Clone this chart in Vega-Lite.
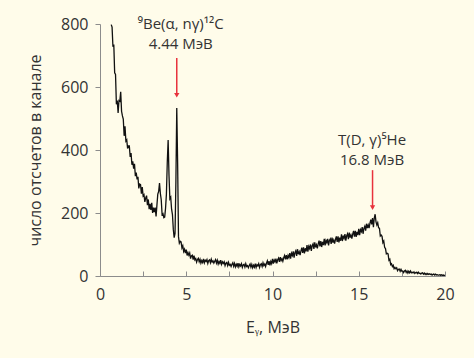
{
  "$schema": "https://vega.github.io/schema/vega-lite/v6.json",
  "width": 345,
  "height": 252,
  "autosize": "none",
  "padding": {"left": 100, "top": 24, "right": 29, "bottom": 82},
  "background": "#fffcea",
  "config": {
    "view": {"stroke": null},
    "font": "Open Sans",
    "axis": {
      "domainColor": "#8c8c8c",
      "tickColor": "#8c8c8c",
      "labelColor": "#333333",
      "titleColor": "#333333",
      "labelFontSize": 16,
      "titleFontSize": 16,
      "titleFontWeight": "normal",
      "grid": false,
      "labelFlush": false,
      "labelOverlap": false
    }
  },
  "datasets": {
    "spectrum": [
      {"e":0.65,"c":798},{"e":0.70,"c":790},{"e":0.75,"c":728},{"e":0.80,"c":735},{"e":0.85,"c":645},{"e":0.90,"c":640},{"e":0.95,"c":545},{"e":1.00,"c":557},{"e":1.05,"c":518},{"e":1.10,"c":557},
      {"e":1.15,"c":555},{"e":1.20,"c":585},{"e":1.25,"c":523},{"e":1.30,"c":508},{"e":1.35,"c":498},{"e":1.40,"c":445},{"e":1.45,"c":475},{"e":1.50,"c":428},{"e":1.55,"c":432},{"e":1.60,"c":405},
      {"e":1.65,"c":413},{"e":1.70,"c":413},{"e":1.75,"c":378},{"e":1.80,"c":390},{"e":1.85,"c":353},{"e":1.90,"c":364},{"e":1.95,"c":341},{"e":2.00,"c":356},{"e":2.05,"c":317},{"e":2.10,"c":328},
      {"e":2.15,"c":307},{"e":2.20,"c":315},{"e":2.25,"c":278},{"e":2.30,"c":292},{"e":2.35,"c":290},{"e":2.40,"c":261},{"e":2.45,"c":282},{"e":2.50,"c":254},{"e":2.55,"c":258},{"e":2.60,"c":235},
      {"e":2.65,"c":248},{"e":2.70,"c":255},{"e":2.75,"c":225},{"e":2.80,"c":243},{"e":2.85,"c":212},{"e":2.90,"c":229},{"e":2.95,"c":210},{"e":3.00,"c":232},{"e":3.05,"c":200},{"e":3.10,"c":217},
      {"e":3.15,"c":203},{"e":3.20,"c":217},{"e":3.25,"c":189},{"e":3.30,"c":225},{"e":3.35,"c":260},{"e":3.40,"c":268},{"e":3.45,"c":295},{"e":3.50,"c":262},{"e":3.55,"c":242},{"e":3.60,"c":195},
      {"e":3.65,"c":198},{"e":3.70,"c":185},{"e":3.75,"c":187},{"e":3.80,"c":215},{"e":3.85,"c":260},{"e":3.90,"c":360},{"e":3.95,"c":432},{"e":4.00,"c":320},{"e":4.05,"c":245},{"e":4.10,"c":250},
      {"e":4.15,"c":212},{"e":4.20,"c":195},{"e":4.25,"c":148},{"e":4.30,"c":122},{"e":4.35,"c":135},{"e":4.40,"c":300},{"e":4.45,"c":533},{"e":4.50,"c":360},{"e":4.55,"c":125},{"e":4.60,"c":104},
      {"e":4.65,"c":110},{"e":4.70,"c":108},{"e":4.75,"c":89},{"e":4.80,"c":96},{"e":4.85,"c":78},{"e":4.90,"c":85},{"e":4.95,"c":73},{"e":5.00,"c":84},{"e":5.05,"c":65},{"e":5.10,"c":74},
      {"e":5.15,"c":66},{"e":5.20,"c":73},{"e":5.25,"c":55},{"e":5.30,"c":64},{"e":5.35,"c":66},{"e":5.40,"c":52},{"e":5.45,"c":65},{"e":5.50,"c":51},{"e":5.55,"c":55},{"e":5.60,"c":44},
      {"e":5.65,"c":52},{"e":5.70,"c":56},{"e":5.75,"c":45},{"e":5.80,"c":53},{"e":5.85,"c":41},{"e":5.90,"c":49},{"e":5.95,"c":43},{"e":6.00,"c":54},{"e":6.05,"c":42},{"e":6.10,"c":50},
      {"e":6.15,"c":46},{"e":6.20,"c":52},{"e":6.25,"c":40},{"e":6.30,"c":49},{"e":6.35,"c":51},{"e":6.40,"c":42},{"e":6.45,"c":53},{"e":6.50,"c":44},{"e":6.55,"c":48},{"e":6.60,"c":41},
      {"e":6.65,"c":47},{"e":6.70,"c":52},{"e":6.75,"c":41},{"e":6.80,"c":50},{"e":6.85,"c":38},{"e":6.90,"c":46},{"e":6.95,"c":40},{"e":7.00,"c":50},{"e":7.05,"c":37},{"e":7.10,"c":45},
      {"e":7.15,"c":40},{"e":7.20,"c":45},{"e":7.25,"c":33},{"e":7.30,"c":41},{"e":7.35,"c":43},{"e":7.40,"c":33},{"e":7.45,"c":43},{"e":7.50,"c":34},{"e":7.55,"c":37},{"e":7.60,"c":30},
      {"e":7.65,"c":37},{"e":7.70,"c":42},{"e":7.75,"c":31},{"e":7.80,"c":40},{"e":7.85,"c":29},{"e":7.90,"c":37},{"e":7.95,"c":31},{"e":8.00,"c":41},{"e":8.05,"c":29},{"e":8.10,"c":37},
      {"e":8.15,"c":32},{"e":8.20,"c":39},{"e":8.25,"c":27},{"e":8.30,"c":35},{"e":8.35,"c":37},{"e":8.40,"c":28},{"e":8.45,"c":39},{"e":8.50,"c":30},{"e":8.55,"c":33},{"e":8.60,"c":26},
      {"e":8.65,"c":33},{"e":8.70,"c":38},{"e":8.75,"c":28},{"e":8.80,"c":37},{"e":8.85,"c":26},{"e":8.90,"c":34},{"e":8.95,"c":28},{"e":9.00,"c":39},{"e":9.05,"c":27},{"e":9.10,"c":36},
      {"e":9.15,"c":32},{"e":9.20,"c":39},{"e":9.25,"c":27},{"e":9.30,"c":36},{"e":9.35,"c":39},{"e":9.40,"c":30},{"e":9.45,"c":42},{"e":9.50,"c":33},{"e":9.55,"c":38},{"e":9.60,"c":30},
      {"e":9.65,"c":41},{"e":9.70,"c":48},{"e":9.75,"c":35},{"e":9.80,"c":47},{"e":9.85,"c":34},{"e":9.90,"c":46},{"e":9.95,"c":39},{"e":10.00,"c":54},{"e":10.05,"c":39},{"e":10.10,"c":51},
      {"e":10.15,"c":45},{"e":10.20,"c":55},{"e":10.25,"c":40},{"e":10.30,"c":52},{"e":10.35,"c":57},{"e":10.40,"c":45},{"e":10.45,"c":60},{"e":10.50,"c":49},{"e":10.55,"c":55},{"e":10.60,"c":47},
      {"e":10.65,"c":58},{"e":10.70,"c":65},{"e":10.75,"c":53},{"e":10.80,"c":66},{"e":10.85,"c":53},{"e":10.90,"c":65},{"e":10.95,"c":58},{"e":11.00,"c":73},{"e":11.05,"c":55},{"e":11.10,"c":72},
      {"e":11.15,"c":65},{"e":11.20,"c":78},{"e":11.25,"c":58},{"e":11.30,"c":74},{"e":11.35,"c":80},{"e":11.40,"c":64},{"e":11.45,"c":85},{"e":11.50,"c":69},{"e":11.55,"c":77},{"e":11.60,"c":66},
      {"e":11.65,"c":80},{"e":11.70,"c":90},{"e":11.75,"c":73},{"e":11.80,"c":91},{"e":11.85,"c":72},{"e":11.90,"c":88},{"e":11.95,"c":78},{"e":12.00,"c":98},{"e":12.05,"c":77},{"e":12.10,"c":94},
      {"e":12.15,"c":87},{"e":12.20,"c":100},{"e":12.25,"c":80},{"e":12.30,"c":96},{"e":12.35,"c":102},{"e":12.40,"c":86},{"e":12.45,"c":107},{"e":12.50,"c":91},{"e":12.55,"c":99},{"e":12.60,"c":88},
      {"e":12.65,"c":102},{"e":12.70,"c":112},{"e":12.75,"c":94},{"e":12.80,"c":111},{"e":12.85,"c":92},{"e":12.90,"c":108},{"e":12.95,"c":98},{"e":13.00,"c":118},{"e":13.05,"c":97},{"e":13.10,"c":113},
      {"e":13.15,"c":106},{"e":13.20,"c":118},{"e":13.25,"c":97},{"e":13.30,"c":113},{"e":13.35,"c":118},{"e":13.40,"c":102},{"e":13.45,"c":122},{"e":13.50,"c":106},{"e":13.55,"c":114},{"e":13.60,"c":103},
      {"e":13.65,"c":116},{"e":13.70,"c":126},{"e":13.75,"c":108},{"e":13.80,"c":126},{"e":13.85,"c":107},{"e":13.90,"c":122},{"e":13.95,"c":112},{"e":14.00,"c":132},{"e":14.05,"c":111},{"e":14.10,"c":128},
      {"e":14.15,"c":120},{"e":14.20,"c":133},{"e":14.25,"c":112},{"e":14.30,"c":128},{"e":14.35,"c":134},{"e":14.40,"c":117},{"e":14.45,"c":138},{"e":14.50,"c":122},{"e":14.55,"c":130},{"e":14.60,"c":119},
      {"e":14.65,"c":133},{"e":14.70,"c":143},{"e":14.75,"c":125},{"e":14.80,"c":143},{"e":14.85,"c":124},{"e":14.90,"c":140},{"e":14.95,"c":130},{"e":15.00,"c":150},{"e":15.05,"c":130},{"e":15.10,"c":147},
      {"e":15.15,"c":141},{"e":15.20,"c":155},{"e":15.25,"c":134},{"e":15.30,"c":151},{"e":15.35,"c":158},{"e":15.40,"c":144},{"e":15.45,"c":166},{"e":15.50,"c":152},{"e":15.55,"c":162},{"e":15.60,"c":152},
      {"e":15.65,"c":168},{"e":15.70,"c":179},{"e":15.75,"c":164},{"e":15.80,"c":184},{"e":15.85,"c":155},{"e":15.90,"c":184},{"e":15.95,"c":196},{"e":16.00,"c":172},{"e":16.05,"c":162},{"e":16.10,"c":169},
      {"e":16.15,"c":153},{"e":16.20,"c":152},{"e":16.25,"c":127},{"e":16.30,"c":130},{"e":16.35,"c":126},{"e":16.40,"c":106},{"e":16.45,"c":111},{"e":16.50,"c":91},{"e":16.55,"c":87},{"e":16.60,"c":70},
      {"e":16.65,"c":72},{"e":16.70,"c":70},{"e":16.75,"c":50},{"e":16.80,"c":53},{"e":16.85,"c":36},{"e":16.90,"c":39},{"e":16.95,"c":30},{"e":17.00,"c":34},{"e":17.05,"c":23},{"e":17.10,"c":27},
      {"e":17.15,"c":23},{"e":17.20,"c":26},{"e":17.25,"c":17},{"e":17.30,"c":21},{"e":17.35,"c":22},{"e":17.40,"c":15},{"e":17.45,"c":21},{"e":17.50,"c":15},{"e":17.55,"c":16},{"e":17.60,"c":11},
      {"e":17.65,"c":16},{"e":17.70,"c":18},{"e":17.75,"c":11},{"e":17.80,"c":16},{"e":17.85,"c":9},{"e":17.90,"c":15},{"e":17.95,"c":10},{"e":18.00,"c":16},{"e":18.05,"c":10},{"e":18.10,"c":12},
      {"e":18.15,"c":10},{"e":18.20,"c":13},{"e":18.25,"c":8},{"e":18.30,"c":11},{"e":18.35,"c":12},{"e":18.40,"c":8},{"e":18.45,"c":12},{"e":18.50,"c":8},{"e":18.55,"c":9},{"e":18.60,"c":6},
      {"e":18.65,"c":9},{"e":18.70,"c":10},{"e":18.75,"c":6},{"e":18.80,"c":9},{"e":18.85,"c":5},{"e":18.90,"c":8},{"e":18.95,"c":5},{"e":19.00,"c":8},{"e":19.05,"c":5},{"e":19.10,"c":7},
      {"e":19.15,"c":5},{"e":19.20,"c":6},{"e":19.25,"c":3},{"e":19.30,"c":5},{"e":19.35,"c":6},{"e":19.40,"c":3},{"e":19.45,"c":6},{"e":19.50,"c":3},{"e":19.55,"c":4},{"e":19.60,"c":3},
      {"e":19.65,"c":3},{"e":19.70,"c":4},{"e":19.75,"c":2},{"e":19.80,"c":4},{"e":19.85,"c":2},{"e":19.90,"c":3},{"e":19.95,"c":2},{"e":20.00,"c":2}
    ],
    "arrows": [
      {"e": 4.45, "top": 692, "tip": 574},
      {"e": 15.8, "top": 336, "tip": 217}
    ],
    "labels": [
      {"e": 4.68, "c": 784, "t": ["⁹Be(α, nγ)¹²C", "4.44 МэВ"]},
      {"e": 15.77, "c": 416, "t": ["T(D, γ)⁵He", "16.8 МэВ"]}
    ]
  },
  "layer": [
    {
      "data": {"name": "spectrum"},
      "mark": {"type": "line", "color": "#111111", "strokeWidth": 1.3},
      "encoding": {
        "x": {
          "field": "e", "type": "quantitative",
          "scale": {"domain": [0, 20], "nice": false},
          "axis": {
            "values": [0, 2.5, 5, 7.5, 10, 12.5, 15, 17.5, 20],
            "labelExpr": "datum.value % 5 === 0 ? datum.label : ''",
            "tickSize": -5,
            "labelPadding": 15,
            "title": "Eᵧ, МэВ",
            "titleBaseline": "alphabetic",
            "titleY": 56
          }
        },
        "y": {
          "field": "c", "type": "quantitative",
          "scale": {"domain": [0, 800], "nice": false},
          "axis": {
            "values": [0, 100, 200, 300, 400, 500, 600, 700, 800],
            "labelExpr": "datum.value % 200 === 0 ? datum.label : ''",
            "tickSize": 5,
            "labelPadding": 7,
            "title": "число отсчетов в канале",
            "titleX": -57,
            "titleY": 126
          }
        }
      }
    },
    {
      "data": {"name": "arrows"},
      "mark": {"type": "rule", "color": "#e8323c", "strokeWidth": 1.5},
      "encoding": {
        "x": {"field": "e", "type": "quantitative"},
        "y": {"field": "top", "type": "quantitative"},
        "y2": {"field": "tip"}
      }
    },
    {
      "data": {"name": "arrows"},
      "mark": {"type": "point", "shape": "triangle-down", "filled": true, "color": "#e8323c", "size": 28, "opacity": 1},
      "encoding": {
        "x": {"field": "e", "type": "quantitative"},
        "y": {"field": "tip", "type": "quantitative"}
      }
    },
    {
      "data": {"name": "labels"},
      "mark": {"type": "text", "fontSize": 15, "lineHeight": 20, "color": "#333333", "align": "center", "baseline": "alphabetic"},
      "encoding": {
        "x": {"field": "e", "type": "quantitative"},
        "y": {"field": "c", "type": "quantitative"},
        "text": {"field": "t"}
      }
    }
  ]
}
